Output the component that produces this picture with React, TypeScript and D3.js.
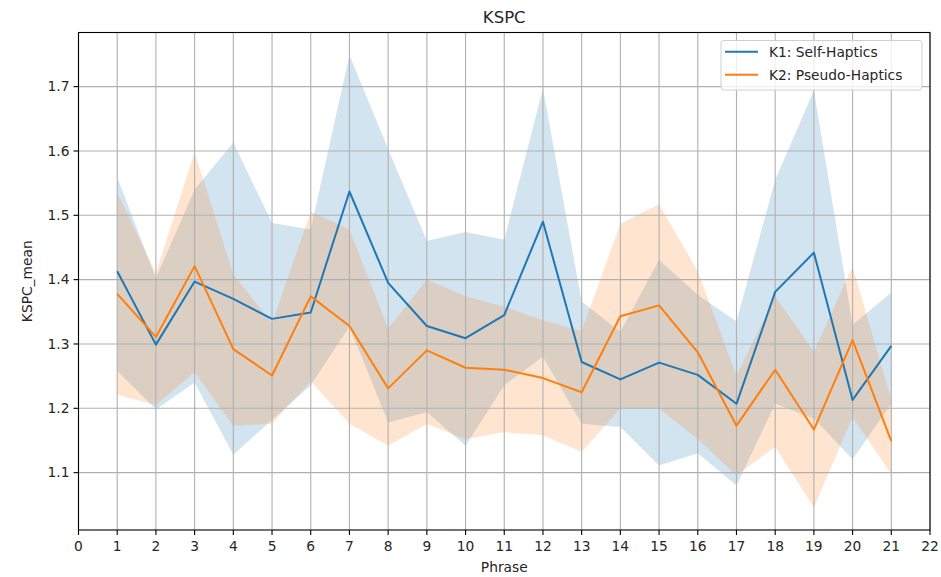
import React from "react";
import * as d3 from "d3";

// Phrase index on the x axis
const phrases = [1, 2, 3, 4, 5, 6, 7, 8, 9, 10, 11, 12, 13, 14, 15, 16, 17, 18, 19, 20, 21];

// K1: Self-Haptics — mean and confidence band
const k1Mean = [1.413, 1.299, 1.397, 1.370, 1.339, 1.349, 1.537, 1.395, 1.328, 1.309, 1.345, 1.490, 1.272, 1.245, 1.271, 1.252, 1.207, 1.381, 1.442, 1.213, 1.297];
const k1Upper = [1.559, 1.402, 1.540, 1.613, 1.488, 1.478, 1.749, 1.603, 1.460, 1.474, 1.462, 1.697, 1.366, 1.319, 1.431, 1.376, 1.335, 1.555, 1.694, 1.330, 1.380];
const k1Lower = [1.258, 1.198, 1.240, 1.128, 1.182, 1.236, 1.327, 1.178, 1.194, 1.142, 1.236, 1.280, 1.176, 1.171, 1.111, 1.130, 1.080, 1.207, 1.184, 1.121, 1.207];

// K2: Pseudo-Haptics — mean and confidence band
const k2Mean = [1.378, 1.311, 1.421, 1.292, 1.251, 1.374, 1.328, 1.231, 1.290, 1.263, 1.260, 1.247, 1.225, 1.343, 1.360, 1.287, 1.173, 1.260, 1.167, 1.306, 1.149];
const k2Upper = [1.535, 1.410, 1.598, 1.408, 1.332, 1.506, 1.478, 1.324, 1.400, 1.374, 1.358, 1.337, 1.320, 1.487, 1.517, 1.413, 1.251, 1.374, 1.288, 1.421, 1.213];
const k2Lower = [1.221, 1.205, 1.256, 1.173, 1.176, 1.242, 1.176, 1.142, 1.176, 1.152, 1.163, 1.158, 1.132, 1.200, 1.200, 1.152, 1.096, 1.140, 1.046, 1.186, 1.098];

const xTicks = d3.range(0, 23);
const yTicks = [1.1, 1.2, 1.3, 1.4, 1.5, 1.6, 1.7];

const seriesNames = ["K1: Self-Haptics", "K2: Pseudo-Haptics"];
const seriesColors = ["#1f77b4", "#ff7f0e"];

const W = 941;
const H = 577;
const M = { left: 78.5, right: 930, top: 32.5, bottom: 530 };
const FONT = "'DejaVu Sans', sans-serif";

export default function App() {
  const allVals = [...k1Upper, ...k1Lower, ...k2Upper, ...k2Lower];
  const lo = d3.min(allVals) as number;
  const hi = d3.max(allVals) as number;
  const pad = (hi - lo) * 0.05;

  const x = d3.scaleLinear().domain([0, 22]).range([M.left, M.right]);
  const y = d3.scaleLinear().domain([lo - pad, hi + pad]).range([M.bottom, M.top]);

  const series = [
    { mean: k1Mean, upper: k1Upper, lower: k1Lower },
    { mean: k2Mean, upper: k2Upper, lower: k2Lower },
  ];

  const area = d3
    .area<number>()
    .x((_, i) => x(phrases[i]))
    .y0((d) => y(d))
    .y1((_, i) => 0);

  const band = (up: number[], low: number[]) =>
    d3
      .area<number>()
      .x((_, i) => x(phrases[i]))
      .y0((_, i) => y(low[i]))
      .y1((_, i) => y(up[i]))(phrases) || "";

  const line = (vals: number[]) =>
    d3
      .line<number>()
      .x((_, i) => x(phrases[i]))
      .y((d) => y(d))(vals) || "";

  void area;

  return (
    <svg
      width={W}
      height={H}
      style={{ position: "absolute", left: 0, top: 0, background: "#fff" }}
      fontFamily={FONT}
    >
      <rect x={0} y={0} width={W} height={H} fill="#fff" />

      {/* confidence bands */}
      {series.map((s, k) => (
        <path key={"b" + k} d={band(s.upper, s.lower)} fill={seriesColors[k]} fillOpacity={0.2} stroke="none" />
      ))}

      {/* grid */}
      {xTicks.map((t) => (
        <line key={"gx" + t} x1={x(t)} x2={x(t)} y1={M.top} y2={M.bottom} stroke="#b0b0b0" strokeWidth={1.1} />
      ))}
      {yTicks.map((t) => (
        <line key={"gy" + t} x1={M.left} x2={M.right} y1={y(t)} y2={y(t)} stroke="#b0b0b0" strokeWidth={1.1} />
      ))}

      {/* mean lines */}
      {series.map((s, k) => (
        <path key={"l" + k} d={line(s.mean)} fill="none" stroke={seriesColors[k]} strokeWidth={2} strokeLinejoin="round" />
      ))}

      {/* spines */}
      <rect x={M.left} y={M.top} width={M.right - M.left} height={M.bottom - M.top} fill="none" stroke="#000" strokeWidth={1.1} />

      {/* x ticks */}
      {xTicks.map((t) => (
        <g key={"tx" + t}>
          <line x1={x(t)} x2={x(t)} y1={M.bottom} y2={M.bottom + 5} stroke="#000" strokeWidth={1.1} />
          <text x={x(t)} y={M.bottom + 21} textAnchor="middle" fontSize={13.8} fill="#262626">
            {t}
          </text>
        </g>
      ))}
      {/* y ticks */}
      {yTicks.map((t) => (
        <g key={"ty" + t}>
          <line x1={M.left - 5} x2={M.left} y1={y(t)} y2={y(t)} stroke="#000" strokeWidth={1.1} />
          <text x={M.left - 9} y={y(t)} dy="0.35em" textAnchor="end" fontSize={13.8} fill="#262626">
            {t.toFixed(1)}
          </text>
        </g>
      ))}

      {/* title and axis labels */}
      <text x={(M.left + M.right) / 2} y={23} textAnchor="middle" fontSize={16.5} fill="#262626">
        KSPC
      </text>
      <text x={(M.left + M.right) / 2} y={572} textAnchor="middle" fontSize={13.8} fill="#262626">
        Phrase
      </text>
      <text
        transform={`translate(32,${(M.top + M.bottom) / 2}) rotate(-90)`}
        textAnchor="middle"
        fontSize={13.8}
        fill="#262626"
      >
        KSPC_mean
      </text>

      {/* legend */}
      <g>
        <rect x={721} y={40.5} width={201} height={49.5} rx={3} fill="#fff" fillOpacity={0.8} stroke="#d0d0d0" strokeWidth={1} />
        {seriesNames.map((n, k) => (
          <g key={"lg" + k}>
            <line x1={725} x2={758} y1={51.7 + k * 23} y2={51.7 + k * 23} stroke={seriesColors[k]} strokeWidth={2} />
            <text x={769} y={51.7 + k * 23} dy="0.35em" fontSize={13.8} fill="#262626">
              {n}
            </text>
          </g>
        ))}
      </g>
    </svg>
  );
}
